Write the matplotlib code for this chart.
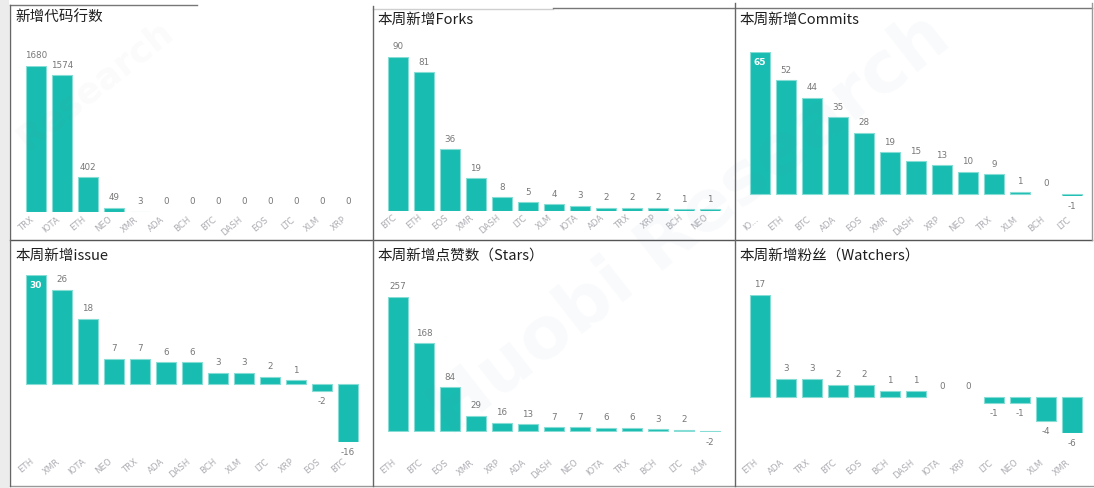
import matplotlib
matplotlib.use("Agg")
import matplotlib.pyplot as plt
from matplotlib.lines import Line2D
from matplotlib.patches import Rectangle

plt.rcParams['font.family'] = ['Noto Sans CJK SC', 'DejaVu Sans']

W, H = 1094, 488

titles = ["新增代码行数", "本周新增Forks", "本周新增Commits",
          "本周新增issue", "本周新增点赞数（Stars）", "本周新增粉丝（Watchers）"]

cats_lines = ["TRX", "IOTA", "ETH", "NEO", "XMR", "ADA", "BCH", "BTC", "DASH", "EOS", "LTC", "XLM", "XRP"]
vals_lines = [1680, 1574, 402, 49, 3, 0, 0, 0, 0, 0, 0, 0, 0]

cats_forks = ["BTC", "ETH", "EOS", "XMR", "DASH", "LTC", "XLM", "IOTA", "ADA", "TRX", "XRP", "BCH", "NEO"]
vals_forks = [90, 81, 36, 19, 8, 5, 4, 3, 2, 2, 2, 1, 1]

cats_commits = ["IO...", "ETH", "BTC", "ADA", "EOS", "XMR", "DASH", "XRP", "NEO", "TRX", "XLM", "BCH", "LTC"]
vals_commits = [65, 52, 44, 35, 28, 19, 15, 13, 10, 9, 1, 0, -1]

cats_issue = ["ETH", "XMR", "IOTA", "NEO", "TRX", "ADA", "DASH", "BCH", "XLM", "LTC", "XRP", "EOS", "BTC"]
vals_issue = [30, 26, 18, 7, 7, 6, 6, 3, 3, 2, 1, -2, -16]

cats_stars = ["ETH", "BTC", "EOS", "XMR", "XRP", "ADA", "DASH", "NEO", "IOTA", "TRX", "BCH", "LTC", "XLM"]
vals_stars = [257, 168, 84, 29, 16, 13, 7, 7, 6, 6, 3, 2, -2]

cats_watch = ["ETH", "ADA", "TRX", "BTC", "EOS", "BCH", "DASH", "IOTA", "XRP", "LTC", "NEO", "XLM", "XMR"]
vals_watch = [17, 3, 3, 2, 2, 1, 1, 0, 0, -1, -1, -4, -6]

panels = [
    (cats_lines, vals_lines), (cats_forks, vals_forks), (cats_commits, vals_commits),
    (cats_issue, vals_issue), (cats_stars, vals_stars), (cats_watch, vals_watch),
]

# layout in pixels: first bar centre x, top-of-max-bar y, bottom-of-min-bar y, tick label pad (px), title pos
layout = [
    (36, 66, 212, 3, (15, 17)),
    (398, 57, 211, 2, (377, 20)),
    (760, 52, 196, 19, (739, 20)),
    (36, 275, 442, 15, (15, 256)),
    (398, 297, 432, 26, (377, 256)),
    (760, 295, 433, 25, (739, 256)),
]
inside_top = [False, False, True, True, False, False]

BAR = '#18bcb0'
EDGE = '#86ddd6'
PITCH = 26

fig = plt.figure(figsize=(W / 100, H / 100), dpi=100)
fig.patch.set_facecolor('white')

# left grey strip
fig.add_artist(Rectangle((0, 0), 9 / W, 1, transform=fig.transFigure,
                         facecolor='#ececec', edgecolor='none', zorder=0))

for i, ((cats, vals), (cx0, ytop, ybot, pad, tpos)) in enumerate(zip(panels, layout)):
    n = len(cats)
    left = (cx0 - PITCH / 2) / W
    width = n * PITCH / W
    bottom = 1 - ybot / H
    height = (ybot - ytop) / H
    ax = fig.add_axes([left, bottom, width, height])
    ax.set_facecolor('none')
    xs = list(range(n))
    edges = [EDGE if v != 0 else 'none' for v in vals]
    ax.bar(xs, vals, width=0.77, color=BAR, edgecolor=edges, linewidth=0.8)
    ax.set_xlim(-0.5, n - 0.5)
    ax.set_ylim(min(0, min(vals)), max(vals))
    for s in ax.spines.values():
        s.set_visible(False)
    ax.set_yticks([])
    ax.set_xticks(xs)
    ax.set_xticklabels(cats, rotation=40, ha='right', va='top', fontsize=6.2,
                       color='#adadb4', family=['DejaVu Sans'])
    ax.tick_params(axis='x', length=0, pad=pad * 0.72)
    vmax = max(vals)
    for x, v in zip(xs, vals):
        if v == vmax and inside_top[i]:
            ax.annotate(str(v), (x, v), xytext=(0, -4), textcoords='offset points',
                        ha='center', va='top', fontsize=6.5, color='white',
                        fontweight='bold', family=['DejaVu Sans'])
        elif v < 0:
            ax.annotate(str(v), (x, v), xytext=(0, -4), textcoords='offset points',
                        ha='center', va='top', fontsize=6.3, color='#777777',
                        family=['DejaVu Sans'], annotation_clip=False)
        else:
            ax.annotate(str(v), (x, v), xytext=(0, 4), textcoords='offset points',
                        ha='center', va='bottom', fontsize=6.3, color='#777777',
                        family=['DejaVu Sans'], annotation_clip=False)
    fig.text(tpos[0] / W, 1 - tpos[1] / H, titles[i], fontsize=10.5, color='#1e1e1e',
             ha='left', va='center')

def hline(y, x0, x1, c='#8a8a8a', lw=1.0):
    fig.add_artist(Line2D([x0 / W, x1 / W], [1 - y / H, 1 - y / H],
                          transform=fig.transFigure, color=c, lw=lw))

def vline(x, y0, y1, c='#8a8a8a', lw=1.0):
    fig.add_artist(Line2D([x / W, x / W], [1 - y0 / H, 1 - y1 / H],
                          transform=fig.transFigure, color=c, lw=lw))

hline(5, 10, 197, c='#777777')
hline(9, 373, 553, c='#cfcfcf')
hline(8, 553, 1092, c='#777777')
hline(240, 10, 1092, c='#555555')
hline(486, 10, 1094, c='#999999')
vline(10, 5, 486, c='#666666')
vline(373, 6, 486, c='#666666')
vline(735, 3, 486, c='#666666')
vline(1092, 3, 240, c='#999999')

# faint watermark
fig.text(690 / W, 1 - 225 / H, "Huobi Research", fontsize=52, fontweight='bold',
         color='#6f8fb0', alpha=0.045, rotation=38, ha='center', va='center',
         family=['DejaVu Sans'], zorder=10)
fig.text(95 / W, 1 - 85 / H, "Research", fontsize=26, fontweight='bold',
         color='#909090', alpha=0.04, rotation=38, ha='center', va='center',
         family=['DejaVu Sans'], zorder=10)

fig.savefig("out.png", dpi=100, facecolor='white')
